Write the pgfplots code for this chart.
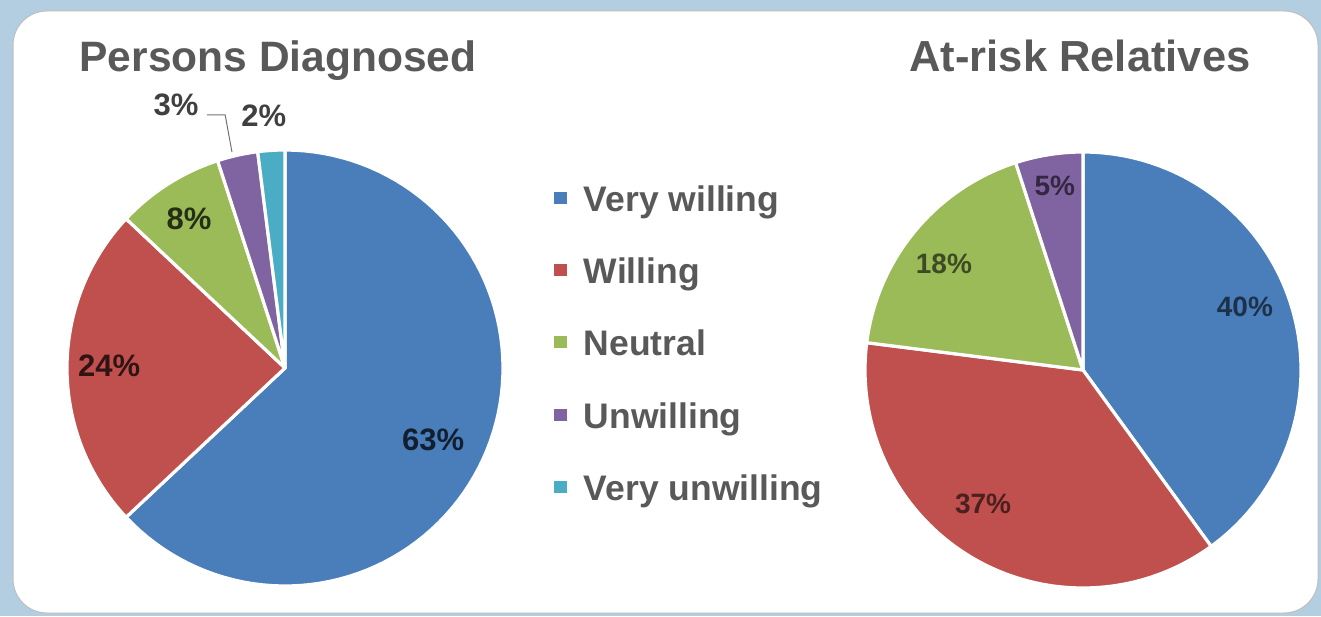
\documentclass[border=0pt]{standalone}
\usepackage{fontspec}
\setmainfont{Liberation Sans}
\usepackage{pgfplots}
\pgfplotsset{compat=1.18}
\usepgfplotslibrary{polar}
\definecolor{cblue}{HTML}{4A7EBB}
\definecolor{cred}{HTML}{C0504D}
\definecolor{cgreen}{HTML}{9BBB59}
\definecolor{cpurple}{HTML}{8064A2}
\definecolor{ccyan}{HTML}{4BACC6}
\definecolor{bgblue}{HTML}{B3CDE1}
\definecolor{txtgray}{HTML}{595959}
\begin{document}
\begin{tikzpicture}[x=1pt,y=1pt]
% background and panel
\fill[bgblue] (0pt,0pt) rectangle (1321pt,616pt);
\fill[white, draw=black!25, line width=1pt, rounded corners=34pt] (13pt,3pt) rectangle (1318pt,605pt);
% titles
\node[anchor=base, font=\bfseries\fontsize{42.5}{50}\selectfont, text=txtgray] at (278pt,544pt) {Persons Diagnosed};
\node[anchor=base, font=\bfseries\fontsize{43.5}{50}\selectfont, text=txtgray] at (1080pt,544pt) {At-risk Relatives};

\pgfplotsset{
  piestyle/.style={
    hide axis, scale only axis, width=436pt, height=436pt,
    xmin=0, xmax=360, ymin=0, ymax=1, clip=false,
  },
  wedge/.style={fill=#1, draw=white, line width=3.2pt, line join=round, samples=90, mark=none},
}
% Persons Diagnosed: 63, 24, 8, 3, 2 (%), clockwise from 12 o'clock (3.6 deg per %)
\begin{polaraxis}[piestyle, at={(285pt,248pt)}, anchor=center,
  legend cell align=left,
  legend style={at={(axis description cs:1.117,0.9151)}, anchor=north west,
    draw=none, fill=none, inner sep=0pt, row sep=39.3pt, column sep=0pt,
    font=\bfseries\fontsize{35.5}{40}\selectfont, text=txtgray,
    nodes={inner sep=0pt, text height=24pt, text depth=9pt}},
  legend image code/.code={\path[#1,draw=none] (0pt,0pt) rectangle (13pt,12pt); \path (28pt,0pt);},
]
\addplot[wedge=cblue, domain=-136.8:90] {1} -- (axis cs:0,0) -- cycle;
\addlegendentry{Very willing}
\addplot[wedge=cred, domain=-223.2:-136.8] {1} -- (axis cs:0,0) -- cycle;
\addlegendentry{Willing}
\addplot[wedge=cgreen, domain=-252:-223.2] {1} -- (axis cs:0,0) -- cycle;
\addlegendentry{Neutral}
\addplot[wedge=cpurple, domain=-262.8:-252] {1} -- (axis cs:0,0) -- cycle;
\addlegendentry{Unwilling}
\addplot[wedge=ccyan, domain=-270:-262.8] {1} -- (axis cs:0,0) -- cycle;
\addlegendentry{Very unwilling}
\addplot[forget plot, black!55, line width=1pt, mark=none] coordinates {(107.1,1.215) (103.3,1.193) (103.8,1.02)};
\begin{scope}[every node/.style={font=\bfseries\fontsize{31}{36}\selectfont, text=black, text opacity=0.75}]
\node at (axis cs:-25.9,0.755) {63\%};
\node at (axis cs:179.3,0.807) {24\%};
\node at (axis cs:122.8,0.813) {8\%};
\node at (axis cs:112.5,1.306) {3\%};
\node at (axis cs:94.8,1.16) {2\%};
\end{scope}
\end{polaraxis}

% At-risk Relatives: 40, 37, 18, 5 (%)
\begin{polaraxis}[piestyle, at={(1083pt,246pt)}, anchor=center]
\addplot[wedge=cblue, domain=-54:90] {1} -- (axis cs:0,0) -- cycle;
\addplot[wedge=cred, domain=-187.2:-54] {1} -- (axis cs:0,0) -- cycle;
\addplot[wedge=cgreen, domain=-252:-187.2] {1} -- (axis cs:0,0) -- cycle;
\addplot[wedge=cpurple, domain=-270:-252] {1} -- (axis cs:0,0) -- cycle;
\begin{scope}[every node/.style={font=\bfseries\fontsize{28}{32}\selectfont, text=black, text opacity=0.6}]
\node at (axis cs:21.3,0.797) {40\%};
\node at (axis cs:233.3,0.767) {37\%};
\node at (axis cs:142.7,0.802) {18\%};
\node at (axis cs:98.7,0.854) {5\%};
\end{scope}
\end{polaraxis}
\end{tikzpicture}
\end{document}
